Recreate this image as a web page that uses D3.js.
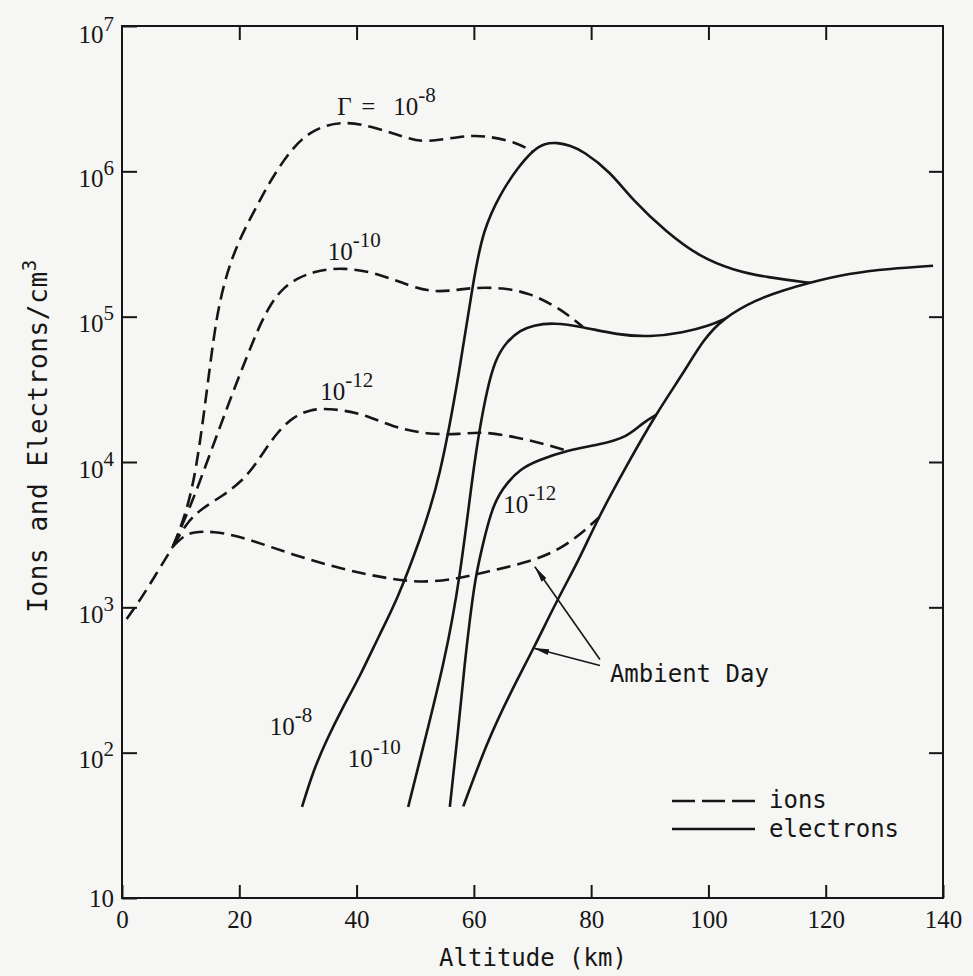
<!DOCTYPE html>
<html><head><meta charset="utf-8">
<script src="https://cdn.jsdelivr.net/npm/d3@7"></script>
<style>
html,body{margin:0;padding:0;background:#f6f6f4;}
svg{display:block;}
</style></head><body>
<svg id="chart" width="973" height="976"></svg>
<script>
// ---------- data (altitude km, density per cm^3) ----------
const xTicks = [0, 20, 40, 60, 80, 100, 120, 140];
const yTicks = [10, 1e2, 1e3, 1e4, 1e5, 1e6, 1e7];
const yTickExp = ["", "2", "3", "4", "5", "6", "7"];

// shared low-altitude ion profile (dashed)
const ionBase = [[0.8,832],[3.1,1122],[6.0,1738],[8.7,2630]];
// ions (dashed)
const ionsAmbient = [[8.7,2630],[10.5,3100],[12.1,3300],[15.5,3350],[20.6,3050],[29.2,2291],[37.7,1820],[46.2,1549],[52.0,1479],[57.6,1585],[61.6,1738],[69.6,2042],[75.9,2630],[81.4,4170]];
const ions12 = [[8.7,2630],[11.0,3800],[13.3,4700],[17.3,5900],[20.3,7300],[22.5,9300],[24.5,12300],[26.6,16200],[29.2,20420],[32.0,22900],[35.0,23440],[40.6,21880],[46.2,17380],[52.0,15490],[57.6,15490],[61.6,16220],[67.4,14790],[73.0,13000],[76.0,11900]];
const ions10 = [[8.7,2630],[10.4,3800],[12.1,5495],[14.5,10000],[16.7,17380],[18.9,30200],[21.3,53000],[23.5,88000],[25.5,125000],[27.5,158000],[30.0,185000],[33.0,206000],[37.7,218800],[43.5,199500],[49.1,162200],[53.0,147900],[56.5,151400],[59.9,158500],[65.0,158500],[69.6,144500],[73.5,120200],[75.9,104000],[78.6,85000]];
const ions8 = [[8.7,2630],[10.5,3980],[12.0,6600],[13.2,12600],[14.5,31600],[15.6,70800],[16.7,131800],[18.5,240000],[20.6,380200],[23.5,631000],[25.8,933000],[29.2,1479000],[32.6,1950000],[37.7,2239000],[43.5,1995000],[49.1,1660000],[52.0,1585000],[57.6,1738000],[61.6,1778000],[67.4,1585000],[70.0,1360000]];
// electrons (solid)
const elec8 = [[30.7,42.3],[32.6,75],[35.0,125],[37.5,200],[40.5,330],[44.0,661],[46.9,1122],[50.8,2884],[54.2,7586],[57.6,42660],[59.9,177800],[61.6,398100],[64.5,700000],[67.4,1050000],[70.1,1400000],[72.1,1560000],[74.2,1580000],[76.5,1500000],[78.6,1380000],[83.2,1000000],[87.1,631000],[92.9,380000],[98.6,257000],[104.2,209000],[110.0,186000],[117.4,171000]];
const elec10 = [[48.8,42.3],[50.8,89],[55.1,437],[57.6,1549],[59.9,8913],[61.1,18000],[62.3,32000],[63.6,50000],[65.5,67000],[68.0,81000],[70.1,87100],[73.5,91200],[78.6,85100],[84.4,75000],[90.0,72440],[95.7,77600],[100.3,87100],[102.9,97000]];
const elec12 = [[55.9,42.3],[57.3,138],[58.5,437],[59.3,813],[60.2,1549],[61.4,2600],[63.3,5248],[65.7,7244],[67.9,8913],[70.8,10230],[75.9,12020],[81.5,13180],[86.1,14790],[88.8,18620],[91.1,21130]];
const elecAmbient = [[58.2,42.7],[62.2,117],[66.2,257],[70.1,513],[74.2,1122],[78.1,2188],[81.0,3981],[86.1,9550],[91.2,21880],[95.7,40740],[99.1,69180],[102.5,97700],[108.3,131800],[112.7,151400],[116.8,169800],[124.1,199500],[130.9,213800],[138.3,223900]];

// curve labels: [altitude, density, base, exponent]
const curveLabels = [
  [35.1, 246000, "10", "-10"],
  [33.8, 26700, "10", "-12"],
  [65.0, 4470, "10", "-12"],
  [25.2, 132, "10", "-8"],
  [38.5, 79.6, "10", "-10"]
];

// ---------- drawing ----------
const W = 973, H = 976;
const svg = d3.select('#chart');
const bg = '#f6f6f4', ink = '#161616';
const serif = '"Liberation Serif", "DejaVu Serif", serif';
const mono = '"DejaVu Sans Mono", "Liberation Mono", monospace';
svg.append('rect').attr('width', W).attr('height', H).attr('fill', bg);

const x = d3.scaleLinear().domain([0, 140]).range([122, 943]);
const y = d3.scaleLog().domain([10, 1e7]).range([898, 26]);

function styleAxis(g) {
  g.select('.domain').remove();
  g.selectAll('.tick line').attr('stroke', ink).attr('stroke-width', 2);
  g.attr('font-family', serif).attr('font-size', 25);
  g.selectAll('text').attr('fill', ink);
}

// bottom
svg.append('g').attr('transform', `translate(0,${y.range()[0]})`)
  .call(d3.axisBottom(x).tickValues(xTicks).tickSize(-13).tickPadding(12).tickFormat(d3.format('d')))
  .call(styleAxis);
// top
svg.append('g').attr('transform', `translate(0,${y.range()[1]})`)
  .call(d3.axisTop(x).tickValues(xTicks.slice(1, -1)).tickSize(-14).tickFormat(''))
  .call(styleAxis);
// left
const gL = svg.append('g').attr('transform', `translate(${x.range()[0]},0)`)
  .call(d3.axisLeft(y).tickValues(yTicks).tickSize(-15).tickPadding(8).tickFormat(''))
  .call(styleAxis);
gL.selectAll('.tick text').each(function(d, i) {
  const t = d3.select(this);
  t.text(null);
  if (yTickExp[i] === "") {
    t.attr('dy', '0.32em').text('10');
  } else {
    t.attr('dy', i === yTicks.length - 1 ? '0.66em' : '0.6em');
    t.append('tspan').text('10');
    t.append('tspan').attr('dy', -12).attr('font-size', 21).text(yTickExp[i]);
  }
});
// right
svg.append('g').attr('transform', `translate(${x.range()[1]},0)`)
  .call(d3.axisRight(y).tickValues(yTicks.slice(1, -1)).tickSize(-14).tickFormat(''))
  .call(styleAxis);

// frame
svg.append('rect')
  .attr('x', x.range()[0]).attr('y', y.range()[1])
  .attr('width', x.range()[1] - x.range()[0]).attr('height', y.range()[0] - y.range()[1])
  .attr('fill', 'none').attr('stroke', ink).attr('stroke-width', 2);

// curves
const line = d3.line().x(d => x(d[0])).y(d => y(d[1])).curve(d3.curveBasis);
const gc = svg.append('g').attr('fill', 'none').attr('stroke', ink).attr('stroke-linecap', 'butt');
[ionBase, ionsAmbient, ions12, ions10, ions8].forEach(s => {
  gc.append('path').attr('d', line(s)).attr('stroke-width', 2.6).attr('stroke-dasharray', '14,7');
});
[elecAmbient, elec12, elec10, elec8].forEach(s => {
  gc.append('path').attr('d', line(s)).attr('stroke-width', 2.6);
});

// labels
function supText(px, py, base, exp) {
  const t = svg.append('text').attr('x', px).attr('y', py)
    .attr('font-family', serif).attr('font-size', 25).attr('fill', ink);
  t.append('tspan').text(base);
  t.append('tspan').attr('dy', -13).attr('font-size', 21).text(exp);
  return t;
}
curveLabels.forEach(l => supText(x(l[0]), y(l[1]), l[2], l[3]));
// Γ = 10^-8
{
  const px = x(36.7), py = y(2.45e6);
  const t = svg.append('text').attr('x', px).attr('y', py)
    .attr('font-family', serif).attr('font-size', 25).attr('fill', ink);
  t.append('tspan').text('\u0393');
  t.append('tspan').attr('x', px + 24).text('=');
  t.append('tspan').attr('x', px + 56).text('10');
  t.append('tspan').attr('dy', -13).attr('font-size', 21).text('-8');
}

// Ambient Day annotation
const defs = svg.append('defs');
defs.append('marker').attr('id', 'arr').attr('viewBox', '0 0 16 6')
  .attr('refX', 16).attr('refY', 3).attr('markerWidth', 16).attr('markerHeight', 6)
  .attr('markerUnits', 'userSpaceOnUse').attr('orient', 'auto')
  .append('path').attr('d', 'M0,0 L16,3 L0,6 Z').attr('fill', ink);
const ax0 = x(81.5), ay0 = y(10 ** 2.62);
svg.append('line').attr('x1', ax0).attr('y1', ay0 - 3).attr('x2', x(70.4)).attr('y2', y(1900))
  .attr('stroke', ink).attr('stroke-width', 1.6).attr('marker-end', 'url(#arr)');
svg.append('line').attr('x1', ax0).attr('y1', ay0 + 3).attr('x2', x(70.1)).attr('y2', y(525))
  .attr('stroke', ink).attr('stroke-width', 1.6).attr('marker-end', 'url(#arr)');
svg.append('text').attr('x', x(83.2)).attr('y', y(307))
  .attr('font-family', mono).attr('font-size', 24).attr('fill', ink).text('Ambient Day');

// legend
const lg = svg.append('g');
lg.append('line').attr('x1', 672).attr('x2', 755).attr('y1', 801).attr('y2', 801)
  .attr('stroke', ink).attr('stroke-width', 2.6).attr('stroke-dasharray', '23,7');
lg.append('line').attr('x1', 672).attr('x2', 755).attr('y1', 829).attr('y2', 829)
  .attr('stroke', ink).attr('stroke-width', 2.6);
lg.append('text').attr('x', 769).attr('y', 808).attr('font-family', mono).attr('font-size', 24).attr('fill', ink).text('ions');
lg.append('text').attr('x', 769).attr('y', 837).attr('font-family', mono).attr('font-size', 24).attr('fill', ink).text('electrons');

// axis titles
svg.append('text').attr('x', 533).attr('y', 966).attr('text-anchor', 'middle')
  .attr('font-family', mono).attr('font-size', 24).attr('fill', ink).text('Altitude (km)');
const yt = svg.append('text').attr('transform', 'translate(47,436) rotate(-90)').attr('text-anchor', 'middle')
  .attr('font-family', mono).attr('font-size', 26).attr('letter-spacing', 0.6).attr('fill', ink);
yt.append('tspan').text('Ions and Electrons/cm');
yt.append('tspan').attr('dy', -11).attr('font-size', 19).text('3');
</script>
</body></html>
